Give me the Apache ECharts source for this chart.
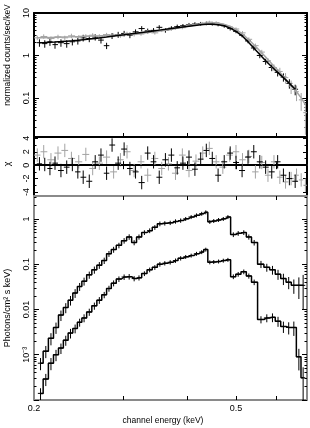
<!DOCTYPE html>
<html><head><meta charset="utf-8">
<script src="https://cdn.jsdelivr.net/npm/echarts@6/dist/echarts.min.js"></script>
<style>html,body{margin:0;padding:0;background:#fff}#c{width:310px;height:428px}</style>
</head><body><div id="c"></div>
<script>
// ---------- top panel: normalized counts ----------
const energyBlack = [0.205,0.21,0.215,0.22,0.226,0.232,0.238,0.244,0.25,0.257,
  0.264,0.271,0.278,0.285,0.293,0.301,0.309,0.317,0.326,0.335,
  0.344,0.353,0.363,0.373,0.383,0.393,0.404,0.415,0.426,0.437,
  0.449,0.461,0.474,0.487,0.5,0.514,0.528,0.542,0.557,0.572,
  0.588,0.604,0.62,0.637,0.654];
const countsBlack = [2.0,1.9,2.1,1.8,2.0,1.9,2.1,2.2,2.6,2.5,
  2.7,2.3,1.7,2.9,3.1,3.3,3.0,3.6,4.3,3.8,
  3.9,4.6,3.9,4.4,4.8,5.0,5.3,5.5,5.6,5.7,
  5.6,5.4,5.0,4.3,3.7,3.0,2.2,1.5,1.0,0.72,
  0.52,0.40,0.31,0.22,0.16];
const modelBlack = [2.0,2.02,2.05,2.08,2.12,2.17,2.22,2.28,2.35,2.43,
  2.52,2.62,2.72,2.83,2.95,3.07,3.2,3.34,3.48,3.62,
  3.78,3.95,4.12,4.3,4.5,4.7,4.9,5.1,5.3,5.4,
  5.4,5.3,5.0,4.4,3.7,2.9,2.1,1.5,1.05,0.75,
  0.54,0.4,0.3,0.22,0.16];
const errBlack = [0.2,0.2,0.2,0.2,0.2,0.2,0.18,0.18,0.18,0.18,
  0.17,0.17,0.17,0.16,0.16,0.15,0.15,0.14,0.14,0.13,
  0.13,0.12,0.12,0.11,0.11,0.1,0.1,0.1,0.1,0.1,
  0.1,0.1,0.1,0.1,0.1,0.11,0.12,0.13,0.14,0.16,
  0.18,0.2,0.22,0.25,0.28];
const energyGray = [0.203,0.209,0.216,0.223,0.23,0.237,0.245,0.253,0.261,0.269,
  0.278,0.287,0.296,0.305,0.315,0.325,0.335,0.346,0.357,0.368,
  0.38,0.392,0.404,0.417,0.43,0.443,0.457,0.471,0.486,0.5,
  0.515,0.53,0.546,0.562,0.578,0.594,0.61,0.626,0.642,0.658,
  0.672,0.685];
const countsGray = [2.6,2.8,2.5,2.75,2.6,2.9,2.7,2.85,3.0,2.85,
  3.1,3.0,2.9,3.3,3.1,3.2,3.6,3.4,3.9,4.1,
  4.4,4.5,5.2,5.4,5.7,6.1,5.9,5.3,4.7,4.2,
  3.4,2.4,1.7,1.2,0.75,0.52,0.42,0.3,0.19,0.14,
  0.09,0.045];
const modelGray = [2.6,2.62,2.65,2.68,2.71,2.74,2.78,2.82,2.86,2.9,
  2.95,3.0,3.06,3.13,3.2,3.3,3.45,3.6,3.8,4.0,
  4.3,4.6,4.95,5.3,5.6,5.8,5.8,5.5,4.9,4.1,
  3.2,2.35,1.65,1.15,0.8,0.56,0.4,0.28,0.2,0.14,
  0.1,0.07];
const errGray = [0.12,0.12,0.12,0.12,0.12,0.12,0.11,0.11,0.11,0.11,
  0.1,0.1,0.1,0.1,0.1,0.09,0.09,0.09,0.09,0.08,
  0.08,0.08,0.08,0.08,0.08,0.08,0.08,0.08,0.08,0.09,
  0.1,0.11,0.12,0.13,0.15,0.18,0.22,0.28,0.35,0.4,
  0.45,0.7];
// ---------- middle panel: residuals (chi) ----------
const residBlack = [0.2,0.1,-0.5,0.3,-0.8,-0.3,0.1,-1.0,-1.8,-2.4,
  0.5,1.5,-1.2,3.0,0.3,2.4,-0.5,-1.0,-2.6,1.8,
  0.5,-1.8,0.8,1.5,-0.4,0.3,1.2,-0.6,0.9,2.2,
  1.0,-1.5,0.5,1.8,0.4,-0.8,1.2,2.0,0.5,-0.3,
  -1.0,0.5,-1.5,-2.0,-2.4];
const residGray = [1.5,2.0,0.8,1.8,2.2,1.0,0.5,1.6,-0.5,0.3,
  1.2,-1.0,0.8,2.0,-0.8,0.5,-1.5,1.0,-0.5,0.2,
  -1.2,1.5,-0.8,0.6,1.8,2.5,0.5,-0.3,1.5,2.0,
  0.8,1.3,-1.0,0.4,-1.5,0.5,-1.8,-2.5,-2.0,-1.5,
  -2.2,-3.0];
// ---------- bottom panel: unfolded photon spectra ----------
const energyPhot = [0.206,0.211,0.216,0.221,0.226,0.231,0.236,0.241,0.246,0.251,
  0.257,0.263,0.269,0.275,0.281,0.287,0.294,0.301,0.308,0.315,
  0.322,0.33,0.338,0.346,0.354,0.362,0.371,0.38,0.389,0.398,
  0.408,0.418,0.428,0.436,0.444,0.452,0.462,0.472,0.482,0.494,
  0.505,0.518,0.53,0.543,0.56,0.575,0.59,0.605,0.62,0.635,
  0.65,0.665,0.678];
const photonsUpper = [6.5e-4,1.2e-3,2.3e-3,4.0e-3,7.5e-3,0.011,0.016,0.023,0.032,0.042,
  0.058,0.075,0.095,0.12,0.17,0.21,0.26,0.33,0.40,0.30,
  0.40,0.50,0.55,0.65,0.78,0.80,0.82,0.88,0.92,1.0,
  1.1,1.2,1.3,1.4,0.86,0.9,0.95,1.0,1.1,0.45,
  0.48,0.5,0.4,0.3,0.1,0.085,0.075,0.06,0.048,0.04,
  0.034,0.034,0.034];
const photonsLower = [1.4e-4,2.9e-4,6.5e-4,1.0e-3,1.4e-3,2.1e-3,3.0e-3,3.8e-3,5.2e-3,6.5e-3,
  8.8e-3,0.012,0.016,0.021,0.029,0.038,0.047,0.052,0.053,0.048,
  0.05,0.062,0.075,0.085,0.1,0.105,0.11,0.12,0.135,0.145,
  0.155,0.17,0.185,0.21,0.11,0.112,0.115,0.12,0.125,0.053,
  0.06,0.068,0.055,0.04,6.0e-3,6.5e-3,6.7e-3,5.5e-3,4.2e-3,4.0e-3,
  4.0e-3,9e-4,3.1e-4];
const errPhot = [0.3,0.3,0.3,0.28,0.26,0.25,0.24,0.22,0.2,0.2,
  0.18,0.18,0.17,0.16,0.15,0.15,0.14,0.14,0.14,0.13,
  0.13,0.12,0.12,0.12,0.12,0.11,0.11,0.11,0.11,0.1,
  0.1,0.1,0.1,0.1,0.1,0.1,0.1,0.1,0.1,0.12,
  0.12,0.12,0.13,0.14,0.18,0.2,0.22,0.25,0.28,0.3,
  0.35,0.5,0.7];
// ---------- ticks & labels ----------
const xTickValues = [0.3,0.4,0.5,0.6];
const xLabelValues = [0.2,0.5];
const yTopMajor = [0.1,1,10];
const yTopMinor = [0.02,0.03,0.04,0.05,0.06,0.07,0.08,0.09,0.2,0.3,0.4,0.5,0.6,0.7,0.8,0.9,2,3,4,5,6,7,8,9];
const yMidTicks = [-4,-2,0,2,4];
const yMidMinor = [-3,-1,1,3];
const yMidLabels = [-4,-2,0,2,4];
const yBotMajor = [1e-4,1e-3,0.01,0.1,1];
const yBotLabels = [1e-3,0.01,0.1,1];
const yBotMinor = [2e-4,3e-4,4e-4,5e-4,6e-4,7e-4,8e-4,9e-4,2e-3,3e-3,4e-3,5e-3,6e-3,7e-3,8e-3,9e-3,
  0.02,0.03,0.04,0.05,0.06,0.07,0.08,0.09,0.2,0.3,0.4,0.5,0.6,0.7,0.8,0.9,2,3];

const FONT = '"Liberation Sans", Arial, sans-serif';
const GRAYC = '#a3a3a3', FRAMEGRAY = '#8a8a8a';

function binEdges(E){
  const lo=[],hi=[];
  for(let i=0;i<E.length;i++){
    const a = i>0 ? Math.sqrt(E[i-1]*E[i]) : E[i]*E[i]/Math.sqrt(E[i]*E[i+1]);
    const b = i<E.length-1 ? Math.sqrt(E[i]*E[i+1]) : E[i]*E[i]/Math.sqrt(E[i-1]*E[i]);
    lo.push(a); hi.push(b);
  }
  return [lo,hi];
}
function crossLog(E,V,err){
  const [lo,hi]=binEdges(E);
  return E.map((e,i)=>[e,V[i],lo[i],hi[i],Math.max(V[i]*(1-err[i]),1e-6),V[i]*(1+err[i])]);
}
function crossLin(E,V,d){
  const [lo,hi]=binEdges(E);
  return E.map((e,i)=>[e,V[i],lo[i],hi[i],V[i]-d,V[i]+d]);
}
function crossRender(color,lw){
  return function(params,api){
    const cs=params.coordSys;
    const clampY=y=>Math.min(Math.max(y,cs.y),cs.y+cs.height);
    const clampX=x=>Math.min(Math.max(x,cs.x),cs.x+cs.width);
    const x=api.value(0), y=api.value(1);
    const p1=api.coord([api.value(2),y]), p2=api.coord([api.value(3),y]);
    const p3=api.coord([x,api.value(4)]), p4=api.coord([x,api.value(5)]);
    const ch=[];
    if(p1[1]>=cs.y && p1[1]<=cs.y+cs.height)
      ch.push({type:'line',shape:{x1:clampX(p1[0]),y1:p1[1],x2:clampX(p2[0]),y2:p2[1]},style:{stroke:color,lineWidth:lw}});
    ch.push({type:'line',shape:{x1:p3[0],y1:clampY(p3[1]),x2:p4[0],y2:clampY(p4[1])},style:{stroke:color,lineWidth:lw}});
    return {type:'group',children:ch};
  };
}
const zip=(a,b)=>a.map((v,i)=>[v,b[i]]);
function fmtNum(v){
  if(Math.abs(v-1e-3)<1e-9) return '10\u207B\u00B3';
  return String(+(+v).toPrecision(6));
}

const grids=[
  {left:34,right:3,top:13,height:124},
  {left:34,right:3,top:137,height:59},
  {left:34,right:3,top:196,height:204}
];
const allGrids = grids.concat(grids.map(g=>Object.assign({},g)));

function xAx(gi,pos,showLabel,lineColor){
  return {type:'log',logBase:10,gridIndex:gi,position:pos,min:0.2,max:0.69,
    axisLine:{show:true,lineStyle:{color:lineColor,width:2}},
    axisTick:{show:true,inside:true,length:4,customValues:xTickValues,lineStyle:{color:'#000',width:1}},
    axisLabel:{show:showLabel,customValues:xLabelValues,margin:4,fontSize:9,color:'#000',fontFamily:FONT,
      formatter:v=>fmtNum(v),showMinLabel:true,showMaxLabel:true},
    splitLine:{show:false},minorTick:{show:false}};
}
function xHidden(gi){return {type:'log',logBase:10,gridIndex:gi,min:0.2,max:0.69,show:false};}
function yAx(gi,pos,type,min,max,ticks,len,labels,lineColor,showLine){
  const ax={type:type,gridIndex:gi,position:pos,min:min,max:max,
    axisLine:{show:showLine,onZero:false,lineStyle:{color:lineColor,width:2}},
    axisTick:{show:true,inside:true,length:len,customValues:ticks,lineStyle:{color:'#000',width:1}},
    axisLabel:{show:!!labels,rotate:90,margin:3,fontSize:9,color:'#000',fontFamily:FONT,
      formatter:v=>fmtNum(v),showMinLabel:true,showMaxLabel:true},
    splitLine:{show:false},minorTick:{show:false}};
  if(type==='log') ax.logBase=10;
  if(labels) ax.axisLabel.customValues=labels;
  return ax;
}

const xAxis=[
  xAx(0,'bottom',false,'#000'), xAx(0,'top',false,'#000'),
  xAx(1,'bottom',false,FRAMEGRAY), xAx(1,'top',false,'#000'),
  xAx(2,'bottom',true,FRAMEGRAY), xAx(2,'top',false,FRAMEGRAY),
  xHidden(3), xHidden(4), xHidden(5)
];
const yAxis=[
  yAx(0,'left','log',0.012,10,yTopMajor,5,yTopMajor,'#000',true),
  yAx(0,'right','log',0.012,10,yTopMajor,5,null,'#000',true),
  yAx(1,'left','value',-4.6,4.2,yMidTicks,4,yMidLabels,'#000',true),
  yAx(1,'right','value',-4.6,4.2,yMidTicks,4,null,'#000',true),
  yAx(2,'left','log',1e-4,3.2,yBotMajor,5,yBotLabels,FRAMEGRAY,true),
  yAx(2,'right','log',1e-4,3.2,yBotMajor,5,null,FRAMEGRAY,true),
  yAx(3,'left','log',0.012,10,yTopMinor,2.5,null,'#000',false),
  yAx(3,'right','log',0.012,10,yTopMinor,2.5,null,'#000',false),
  yAx(4,'left','value',-4.6,4.2,yMidMinor,2.5,null,'#000',false),
  yAx(4,'right','value',-4.6,4.2,yMidMinor,2.5,null,'#000',false),
  yAx(5,'left','log',1e-4,3.2,yBotMinor,2.5,null,FRAMEGRAY,false),
  yAx(5,'right','log',1e-4,3.2,yBotMinor,2.5,null,FRAMEGRAY,false)
];

const series=[
  {type:'custom',xAxisIndex:0,yAxisIndex:0,renderItem:crossRender('#000',1),data:crossLog(energyBlack,countsBlack,errBlack),z:2},
  {type:'custom',xAxisIndex:0,yAxisIndex:0,renderItem:crossRender(GRAYC,1),data:crossLog(energyGray,countsGray,errGray),z:3},
  {type:'line',xAxisIndex:0,yAxisIndex:0,data:zip(energyGray,modelGray),symbol:'none',lineStyle:{color:GRAYC,width:1.5},z:4},
  {type:'line',xAxisIndex:0,yAxisIndex:0,data:zip(energyBlack,modelBlack),symbol:'none',lineStyle:{color:'#000',width:1.5},z:5},
  {type:'custom',xAxisIndex:2,yAxisIndex:2,renderItem:crossRender(GRAYC,1),data:crossLin(energyGray,residGray,1),z:2},
  {type:'custom',xAxisIndex:2,yAxisIndex:2,renderItem:crossRender('#000',1),data:crossLin(energyBlack,residBlack,1),z:3,
    markLine:{silent:true,symbol:'none',label:{show:false},lineStyle:{type:[4,3],color:'#000',width:1},data:[{yAxis:0}]}},
  {type:'custom',xAxisIndex:4,yAxisIndex:4,renderItem:crossRender('#000',1),data:crossLog(energyPhot,photonsUpper,errPhot),z:2},
  {type:'custom',xAxisIndex:4,yAxisIndex:4,renderItem:crossRender('#000',1),data:crossLog(energyPhot,photonsLower,errPhot),z:2},
  {type:'line',xAxisIndex:4,yAxisIndex:4,step:'middle',data:zip(energyPhot,photonsUpper),symbol:'none',lineStyle:{color:'#000',width:1.5},z:4},
  {type:'line',xAxisIndex:4,yAxisIndex:4,step:'middle',data:zip(energyPhot,photonsLower),symbol:'none',lineStyle:{color:'#000',width:1.5},z:4}
];

const txt=(t,x,y,rot,size)=>({type:'text',x:x,y:y,rotation:rot,silent:true,
  style:{text:t,font:size+'px '+FONT,fill:'#000',align:'center',verticalAlign:'middle'}});
const graphic=[
  txt('normalized counts/sec/keV',8,55,Math.PI/2,8.5),
  txt('\u03C7',8,164,Math.PI/2,9),
  txt('Photons/cm\u00B2 s keV)',8,308,Math.PI/2,9),
  txt('channel energy (keV)',163,421,0,8.5)
];

const chart=echarts.init(document.getElementById('c'),null,{renderer:'canvas'});
chart.setOption({animation:false,backgroundColor:'#fff',grid:allGrids,xAxis:xAxis,yAxis:yAxis,series:series,graphic:graphic});
</script></body></html>
